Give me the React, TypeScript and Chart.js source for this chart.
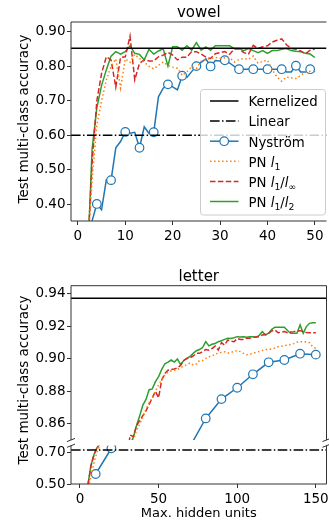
import React, { useEffect, useRef } from 'react';
import { Chart, registerables } from 'chart.js';

Chart.register(...registerables);

const FONT = '"DejaVu Sans", "Liberation Sans", sans-serif';

// ---------------- vowel ----------------
const vowelX = [1, 2, 3, 4, 5, 6, 7, 8, 9, 10, 11, 12, 13, 14, 15, 16, 17, 18, 19, 20, 21, 22, 23, 24, 25, 26, 27, 28, 29, 30, 31, 32, 33, 34, 35, 36, 37, 38, 39, 40, 41, 42, 43, 44, 45, 46, 47, 48, 49, 50];
const vowelNystrom = [0.25, 0.30, 0.352, 0.401, 0.384, 0.471, 0.470, 0.564, 0.582, 0.610, 0.606, 0.609, 0.564, 0.625, 0.606, 0.609, 0.712, 0.737, 0.748, 0.741, 0.732, 0.773, 0.768, 0.785, 0.801, 0.812, 0.822, 0.800, 0.817, 0.816, 0.818, 0.810, 0.800, 0.792, 0.792, 0.792, 0.792, 0.792, 0.792, 0.792, 0.792, 0.792, 0.792, 0.784, 0.784, 0.802, 0.784, 0.784, 0.792, 0.784];
const vowelPnL1 = [0.15, 0.25, 0.47, 0.63, 0.70, 0.76, 0.80, 0.822, 0.737, 0.822, 0.812, 0.835, 0.823, 0.813, 0.800, 0.793, 0.803, 0.813, 0.803, 0.798, 0.795, 0.774, 0.784, 0.800, 0.794, 0.815, 0.820, 0.823, 0.826, 0.824, 0.825, 0.826, 0.813, 0.820, 0.823, 0.821, 0.830, 0.810, 0.815, 0.818, 0.790, 0.770, 0.757, 0.769, 0.767, 0.765, 0.774, 0.784, 0.786, 0.786];
const vowelPnL1Linf = [0.15, 0.25, 0.52, 0.70, 0.78, 0.828, 0.819, 0.740, 0.826, 0.828, 0.888, 0.761, 0.809, 0.819, 0.816, 0.816, 0.828, 0.833, 0.841, 0.833, 0.819, 0.827, 0.827, 0.843, 0.843, 0.836, 0.827, 0.823, 0.837, 0.840, 0.843, 0.835, 0.851, 0.851, 0.840, 0.836, 0.861, 0.852, 0.857, 0.860, 0.871, 0.876, 0.880, 0.863, 0.852, 0.850, 0.845, 0.837, 0.847, 0.851];
const vowelPnL1L2 = [0.15, 0.22, 0.56, 0.68, 0.745, 0.790, 0.830, 0.843, 0.836, 0.843, 0.860, 0.838, 0.835, 0.819, 0.850, 0.836, 0.845, 0.851, 0.801, 0.857, 0.857, 0.847, 0.860, 0.847, 0.869, 0.847, 0.857, 0.847, 0.860, 0.860, 0.860, 0.860, 0.852, 0.852, 0.846, 0.852, 0.846, 0.840, 0.846, 0.838, 0.846, 0.846, 0.850, 0.852, 0.846, 0.844, 0.843, 0.838, 0.836, 0.826];
const vowelKernelized = 0.853;
const vowelLinear = 0.600;
const vowelYTicks = [0.4, 0.5, 0.6, 0.7, 0.8, 0.9];
const vowelXTicks = [0, 10, 20, 30, 40, 50];

// ---------------- letter ----------------
const letterPnX = [1, 3, 5, 7, 9, 11, 13, 15, 20, 25, 30, 32, 34, 36, 38, 40, 42, 44, 46, 48, 50, 52, 54, 56, 58, 60, 62, 64, 66, 68, 70, 72, 74, 76, 78, 80, 82, 84, 86, 88, 90, 92, 94, 96, 98, 100, 102, 104, 106, 108, 110, 112, 114, 116, 118, 120, 122, 124, 126, 128, 130, 132, 134, 136, 138, 140, 142, 144, 146, 148, 150];
const letterPnL1L2 = [0.30, 0.40, 0.49, 0.62, 0.69, 0.735, 0.76, 0.775, 0.80, 0.82, 0.84,
  0.847, 0.852, 0.859, 0.865, 0.8715, 0.875, 0.881, 0.8815, 0.886, 0.889,
  0.8935, 0.897, 0.898, 0.8993, 0.898, 0.900, 0.8965, 0.899, 0.9003, 0.9015,
  0.9034, 0.905, 0.9058, 0.907, 0.9106, 0.908, 0.909, 0.9095, 0.9106, 0.9112,
  0.912, 0.9127, 0.9125, 0.913, 0.9137, 0.9135, 0.9137, 0.9133, 0.9136, 0.9137,
  0.9133, 0.9145, 0.9168, 0.9147, 0.9158, 0.9182, 0.9195, 0.9195, 0.9195, 0.9195,
  0.9175, 0.9158, 0.9158, 0.9158, 0.9209, 0.9158, 0.9199, 0.9219, 0.9222, 0.9222];
const letterPnL1Linf = [0.30, 0.40, 0.49, 0.615, 0.69, 0.735, 0.76, 0.775, 0.80, 0.82, 0.842,
  0.853, 0.852, 0.859, 0.862, 0.865, 0.868, 0.872, 0.876, 0.880, 0.876,
  0.887, 0.891, 0.893, 0.8935, 0.8938, 0.8945, 0.896, 0.899, 0.9003, 0.9005,
  0.9018, 0.9034, 0.9034, 0.9044, 0.9058, 0.9054, 0.9064, 0.9079, 0.9055, 0.910,
  0.9085, 0.9116, 0.911, 0.9106, 0.9125, 0.912, 0.912, 0.9127, 0.9127, 0.9133,
  0.9135, 0.9137, 0.9147, 0.915, 0.9158, 0.9172, 0.9178, 0.9161, 0.9165, 0.9168,
  0.9161, 0.9165, 0.9168, 0.9172, 0.9174, 0.9168, 0.9163, 0.9161, 0.9161, 0.9161];
const letterPnL1 = [0.28, 0.38, 0.46, 0.55, 0.64, 0.71, 0.75, 0.77, 0.80, 0.82, 0.84,
  0.845, 0.850, 0.856, 0.860, 0.864, 0.869, 0.873, 0.876, 0.880, 0.884,
  0.887, 0.890, 0.892, 0.8925, 0.893, 0.8935, 0.8945, 0.8955, 0.8965, 0.8975,
  0.8962, 0.8968, 0.899, 0.899, 0.9003, 0.9013, 0.9017, 0.903, 0.9035, 0.904,
  0.9044, 0.9036, 0.904, 0.9045, 0.9052, 0.9045, 0.9034, 0.9026, 0.9028, 0.9034,
  0.904, 0.9046, 0.9052, 0.9056, 0.9058, 0.9062, 0.9067, 0.9075, 0.9078, 0.9081,
  0.9085, 0.9088, 0.9094, 0.9102, 0.9106, 0.9106, 0.9104, 0.910, 0.9075, 0.9065];
const letterNystromX = [10, 20, 30, 40, 50, 60, 70, 80, 90, 100, 110, 120, 130, 140, 150];
const letterNystrom = [0.564, 0.728, 0.80, 0.82, 0.83, 0.84, 0.846, 0.8633, 0.8752, 0.8822, 0.8905, 0.8979, 0.8993, 0.9032, 0.9026];
const letterKernelized = 0.9373;
const letterLinear = 0.717;
const letterUpperYTicks = [0.86, 0.88, 0.90, 0.92, 0.94];
const letterLowerYTicks = [0.50, 0.70];
const letterXTicks = [0, 50, 100, 150];

const seriesNames = ['Kernelized', 'Linear', 'Nyström', 'PN l1', 'PN l1/l∞', 'PN l1/l2'];

const VOWEL_X = { min: -1.45, max: 52.45 };
const LETTER_X = { min: -5.7, max: 156.8 };

const C_BLUE = '#1f77b4';
const C_ORANGE = '#ff7f0e';
const C_RED = '#d62728';
const C_GREEN = '#2ca02c';
const SPINE = '#333333';
const LW = 1.5;
const DASH_LINEAR = [9.6, 2.4, 1.5, 2.4];
const DASH_RED = [5.5, 2.4];
const DASH_ORANGE = [1.5, 2.5];

const pts = (xs: number[], ys: number[]) => xs.map((x, i) => ({ x, y: ys[i] }));
const hline = (y: number, r: { min: number; max: number }) => [{ x: r.min, y }, { x: r.max, y }];

function buildDatasets(kind: 'vowel' | 'letter') {
  const isV = kind === 'vowel';
  const xr = isV ? VOWEL_X : LETTER_X;
  const base = { fill: false, tension: 0, borderWidth: LW, pointRadius: 0, pointHoverRadius: 0 };
  return [
    { ...base, label: seriesNames[0], data: hline(isV ? vowelKernelized : letterKernelized, xr), borderColor: '#000' },
    { ...base, label: seriesNames[1], data: hline(isV ? vowelLinear : letterLinear, xr), borderColor: '#000', borderDash: DASH_LINEAR },
    { ...base, label: seriesNames[3], data: isV ? pts(vowelX, vowelPnL1) : pts(letterPnX, letterPnL1), borderColor: C_ORANGE, borderDash: DASH_ORANGE },
    { ...base, label: seriesNames[4], data: isV ? pts(vowelX, vowelPnL1Linf) : pts(letterPnX, letterPnL1Linf), borderColor: C_RED, borderDash: DASH_RED },
    { ...base, label: seriesNames[5], data: isV ? pts(vowelX, vowelPnL1L2) : pts(letterPnX, letterPnL1L2), borderColor: C_GREEN },
    {
      ...base, label: seriesNames[2],
      data: isV ? pts(vowelX, vowelNystrom) : pts(letterNystromX, letterNystrom),
      borderColor: C_BLUE, pointBorderColor: C_BLUE, pointBackgroundColor: '#ffffff', pointBorderWidth: 1.2,
      pointRadius: isV ? (c: any) => (c.dataIndex % 3 === 0 ? 4.3 : 0) : 4.3,
    },
  ];
}

type Part = { t: string; it?: boolean; sub?: boolean };
const legendParts: Part[][] = [
  [{ t: 'Kernelized' }],
  [{ t: 'Linear' }],
  [{ t: 'Nyström' }],
  [{ t: 'PN ' }, { t: 'l', it: true }, { t: '1', sub: true }],
  [{ t: 'PN ' }, { t: 'l', it: true }, { t: '1', sub: true }, { t: '/' }, { t: 'l', it: true }, { t: '∞', sub: true }],
  [{ t: 'PN ' }, { t: 'l', it: true }, { t: '1', sub: true }, { t: '/' }, { t: 'l', it: true }, { t: '2', sub: true }],
];

function drawParts(ctx: CanvasRenderingContext2D, parts: Part[], x: number, y: number, size: number) {
  let cx = x;
  for (const p of parts) {
    const fs = p.sub ? size * 0.7 : size;
    ctx.font = `${p.it ? 'italic ' : ''}${fs}px ${FONT}`;
    ctx.fillText(p.t, cx, p.sub ? y + size * 0.22 : y);
    cx += ctx.measureText(p.t).width;
  }
}

function drawLegend(ctx: CanvasRenderingContext2D) {
  const L = 200.5, T = 89.5, R = 325.5, B = 215;
  ctx.save();
  ctx.beginPath();
  (ctx as any).roundRect(L, T, R - L, B - T, 3);
  ctx.fillStyle = 'rgba(255,255,255,0.8)';
  ctx.fill();
  ctx.strokeStyle = '#cccccc';
  ctx.lineWidth = 1;
  ctx.stroke();
  const styles = [
    { c: '#000', d: [] as number[] },
    { c: '#000', d: DASH_LINEAR },
    { c: C_BLUE, d: [] as number[], m: true },
    { c: C_ORANGE, d: DASH_ORANGE },
    { c: C_RED, d: DASH_RED },
    { c: C_GREEN, d: [] as number[] },
  ];
  styles.forEach((s, i) => {
    const y = 101 + i * 20.1;
    ctx.beginPath();
    ctx.setLineDash(s.d);
    ctx.strokeStyle = s.c;
    ctx.lineWidth = LW;
    ctx.moveTo(210, y);
    ctx.lineTo(238.5, y);
    ctx.stroke();
    ctx.setLineDash([]);
    if ((s as any).m) {
      ctx.beginPath();
      ctx.arc(224.2, y, 4.3, 0, Math.PI * 2);
      ctx.fillStyle = '#fff';
      ctx.fill();
      ctx.lineWidth = 1.2;
      ctx.stroke();
    }
    ctx.fillStyle = '#000';
    ctx.textAlign = 'left';
    ctx.textBaseline = 'alphabetic';
    drawParts(ctx, legendParts[i], 248.5, y + 5.3, 13.3);
  });
  ctx.restore();
}

const decorPlugin = {
  id: 'decor',
  afterDatasetsDraw(chart: any, _args: any, o: any) {
    const { ctx, chartArea: a } = chart;
    ctx.save();
    ctx.strokeStyle = SPINE;
    ctx.lineWidth = 1;
    ctx.setLineDash([]);
    ctx.beginPath();
    const l = a.left, r = a.right, t = a.top, b = a.bottom;
    if (o.spines.includes('t')) { ctx.moveTo(l, t); ctx.lineTo(r, t); }
    if (o.spines.includes('b')) { ctx.moveTo(l, b); ctx.lineTo(r, b); }
    if (o.spines.includes('l')) { ctx.moveTo(l, t); ctx.lineTo(l, b); }
    if (o.spines.includes('r')) { ctx.moveTo(r, t); ctx.lineTo(r, b); }
    ctx.stroke();
    if (o.breakAt) {
      ctx.beginPath();
      const y = o.breakAt === 'b' ? b : t;
      [l, r].forEach((xx) => { ctx.moveTo(xx - 4, y + 1.6); ctx.lineTo(xx + 4, y - 1.6); });
      ctx.stroke();
    }
    ctx.fillStyle = '#000';
    if (o.title) {
      ctx.font = `15px ${FONT}`;
      ctx.textAlign = 'center';
      ctx.textBaseline = 'alphabetic';
      ctx.fillText(o.title, (l + 329 + (r > 329 ? 0 : r - 329)) / 2 + (r > 329 ? (r - 329) / 2 : 0), o.titleY);
    }
    if (o.yLabel) {
      ctx.save();
      ctx.font = `13.5px ${FONT}`;
      ctx.translate(o.yLabelX, o.yLabelY);
      ctx.rotate(-Math.PI / 2);
      ctx.textAlign = 'center';
      ctx.textBaseline = 'middle';
      ctx.fillText(o.yLabel, 0, 0);
      ctx.restore();
    }
    if (o.xLabel) {
      ctx.font = `13px ${FONT}`;
      ctx.textAlign = 'center';
      ctx.textBaseline = 'alphabetic';
      ctx.fillText(o.xLabel, (l + r) / 2, o.xLabelY);
    }
    if (o.legend) drawLegend(ctx);
    ctx.restore();
  },
};

const tickFont = { family: FONT, size: 13.5 };

function xScale(range: { min: number; max: number }, ticks: number[], show: boolean, height: number) {
  return {
    type: 'linear', min: range.min, max: range.max, display: show,
    afterBuildTicks: (ax: any) => { ax.ticks = ticks.map((v) => ({ value: v })); },
    afterFit: (ax: any) => { ax.height = height; ax.paddingLeft = 0; ax.paddingRight = 0; },
    grid: { display: true, drawOnChartArea: false, drawTicks: true, tickLength: 4, color: SPINE, tickColor: SPINE, tickWidth: 1 },
    border: { display: false },
    ticks: { font: tickFont, color: '#000', padding: 3, maxRotation: 0, minRotation: 0, autoSkip: false, callback: (v: any) => String(v) },
  };
}

function yScale(min: number, max: number, ticks: number[]) {
  return {
    type: 'linear', min, max,
    afterBuildTicks: (ax: any) => { ax.ticks = ticks.map((v) => ({ value: v })); },
    afterFit: (ax: any) => { ax.width = 71; ax.paddingTop = 0; ax.paddingBottom = 0; },
    grid: { display: true, drawOnChartArea: false, drawTicks: true, tickLength: 4, color: SPINE, tickColor: SPINE, tickWidth: 1 },
    border: { display: false },
    ticks: { font: tickFont, color: '#000', padding: 1.5, autoSkip: false, callback: (v: any) => Number(v).toFixed(2) },
  };
}

function config(kind: 'vowel' | 'letter', x: any, y: any, padding: any, decor: any) {
  return {
    type: 'line',
    data: { datasets: buildDatasets(kind) },
    options: {
      animation: false, responsive: false, devicePixelRatio: 1,
      events: [],
      layout: { padding },
      scales: { x, y },
      plugins: { legend: { display: false }, tooltip: { enabled: false }, title: { display: false }, decor },
    },
    plugins: [decorPlugin],
  } as any;
}

export default function App() {
  const c1 = useRef<HTMLCanvasElement>(null);
  const c2 = useRef<HTMLCanvasElement>(null);
  const c3 = useRef<HTMLCanvasElement>(null);

  useEffect(() => {
    const charts: Chart[] = [];
    // vowel: canvas 0..240, chart area 71..331 x 22..221
    charts.push(new Chart(c1.current!, config('vowel',
      xScale(VOWEL_X, vowelXTicks, true, 19),
      yScale(0.3515, 0.929, vowelYTicks),
      { top: 22, left: 0, right: 1, bottom: 0 },
      { spines: 'tlb', title: 'vowel', titleY: 16.7, yLabel: 'Test multi-class accuracy', yLabelX: 24, yLabelY: 119, legend: true })));
    // letter upper: canvas top 262, chart area 285.7..440
    charts.push(new Chart(c2.current!, config('letter',
      xScale(LETTER_X, letterXTicks, false, 0),
      yScale(0.85, 0.9451, letterUpperYTicks),
      { top: 23.7, left: 0, right: 4, bottom: 81 },
      { spines: 'tlr', breakAt: 'b', title: 'letter', titleY: 18.5, yLabel: 'Test multi-class accuracy', yLabelX: 24, yLabelY: 118 })));
    // letter lower: canvas top 440, chart area 445.7..484
    charts.push(new Chart(c3.current!, config('letter',
      xScale(LETTER_X, letterXTicks, true, 37),
      yScale(0.50, 0.745, letterLowerYTicks),
      { top: 5.7, left: 0, right: 4, bottom: 0 },
      { spines: 'blr', breakAt: 't', xLabel: 'Max. hidden units', xLabelY: 76.5 })));
    return () => charts.forEach((c) => c.destroy());
  }, []);

  return (
    <div style={{ position: 'absolute', left: 0, top: 0, width: 329, height: 521, overflow: 'hidden', background: '#fff' }}>
      <canvas ref={c1} width={332} height={240} style={{ position: 'absolute', left: 0, top: 0 }} />
      <canvas ref={c2} width={332} height={259} style={{ position: 'absolute', left: 0, top: 262 }} />
      <canvas ref={c3} width={332} height={81} style={{ position: 'absolute', left: 0, top: 440 }} />
    </div>
  );
}
